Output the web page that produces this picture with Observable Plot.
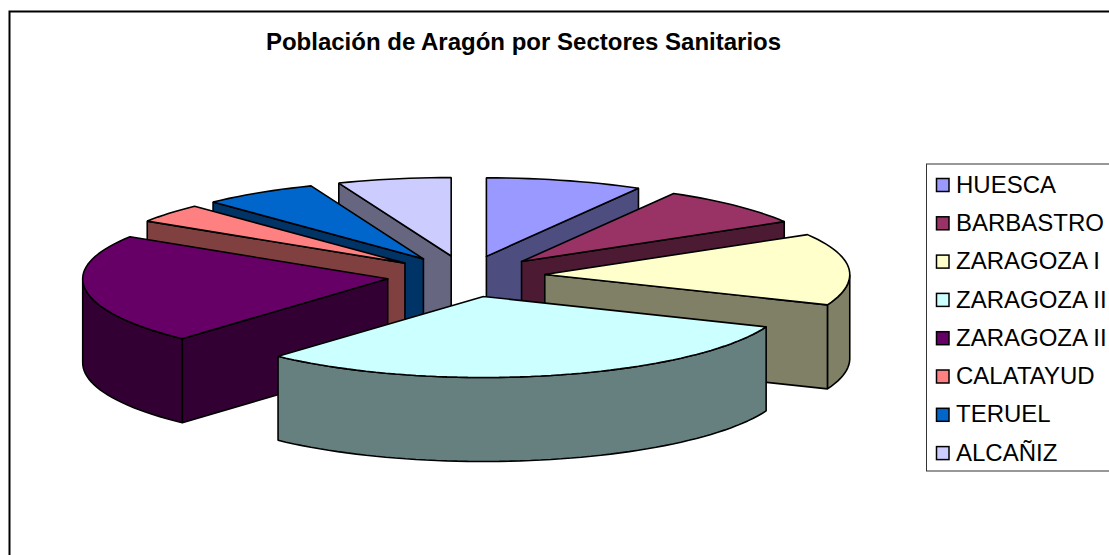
<!DOCTYPE html>
<html>
<head>
<meta charset="utf-8">
<script src="https://cdn.jsdelivr.net/npm/d3@7"></script>
<script src="https://cdn.jsdelivr.net/npm/@observablehq/plot@0.6"></script>
<style>
html,body{margin:0;padding:0;background:#fff;overflow:hidden}
svg{display:block}
</style>
</head>
<body>
<div id="chart"></div>
<script>
const chartTitle = "Población de Aragón por Sectores Sanitarios";
const sectors = ["HUESCA","BARBASTRO","ZARAGOZA I","ZARAGOZA II","ZARAGOZA II","CALATAYUD","TERUEL","ALCAÑIZ"];
const shares = [8.3, 8.2, 14.6, 30.6, 22.2, 3.9, 6.1, 6.0];
const topColors = ["#9999FF","#993366","#FFFFCC","#CCFFFF","#660066","#FF8080","#0066CC","#CCCCFF"];
const sideColors = ["#4D4D80","#4D1A33","#808066","#668080","#330033","#804040","#003366","#666680"];
const paintOrder = [7, 0, 6, 1, 5, 2, 4, 3];

// layout of the projected pie
const W = 1109, H = 555;
const cx = 465.5, cy = 275.5, rx = 305, ry = 81, backShrink = 78.5 / 81;
const explode = 0.259, depth = 84 / ry;
const ux = p => (p - cx) / rx;
const uy = p => (cy - p) / ry;

const arcs = d3.pie().sort(null).value(d => d)(shares);
const polys = [];
const ring = pts => [...pts, pts[0]];
const extrude = run => ring([...run, ...run.slice().reverse().map(p => ({x: p.x, y: p.y - depth}))]);
const foreshorten = y => y > 0 ? y * backShrink : y;

for (const i of paintOrder) {
  const {startAngle: a0, endAngle: a1} = arcs[i];
  const mid = (a0 + a1) / 2;
  const ox = explode * Math.sin(mid), oy = explode * Math.cos(mid);
  const at = a => ({x: ox + Math.sin(a), y: foreshorten(oy + Math.cos(a))});
  const n = Math.max(2, Math.ceil((a1 - a0) / (Math.PI / 90)));
  const arc = d3.range(n + 1).map(k => at(a0 + (a1 - a0) * k / n));
  const apex = {x: ox, y: foreshorten(oy)};
  const boundary = [apex, ...arc, apex];
  // only the faces turned to the viewer: boundary pieces running leftwards
  let run = null;
  for (let k = 0; k < boundary.length - 1; k++) {
    const p = boundary[k], q = boundary[k + 1];
    const radial = k === 0 || k === boundary.length - 2;
    if (q.x < p.x - 1e-9) {
      if (radial) {
        polys.push({pts: extrude([p, q]), fill: sideColors[i]});
        run = null;
      } else {
        if (!run) { run = [p]; polys.push({run, fill: sideColors[i]}); }
        run.push(q);
      }
    } else run = null;
  }
  polys.push({pts: ring([apex, ...arc]), fill: topColors[i]});
}
for (const p of polys) if (p.run) p.pts = extrude(p.run);

const wedgeMarks = polys.map(p => Plot.line(p.pts, {
  x: "x", y: "y", fill: p.fill, stroke: "#000", strokeWidth: 1.6, curve: "linear", strokeLinejoin: "miter"
}));

const legendRows = sectors.map((s, i) => {
  const yc = 184.5 + i * 38.3;
  return {
    name: s, color: topColors[i],
    tx: ux(955.5), ty: uy(yc),
    x1: ux(936.5), x2: ux(949), y1: uy(yc - 6), y2: uy(yc + 7)
  };
});

const svg = Plot.plot({
  width: W, height: H,
  marginTop: 0, marginRight: 0, marginBottom: 0, marginLeft: 0,
  x: {domain: [-1, 1], range: [cx - rx, cx + rx], axis: null},
  y: {domain: [-1, 1], range: [cy + ry, cy - ry], axis: null},
  style: {background: "#fff", fontFamily: "'Liberation Sans', Arial, sans-serif"},
  marks: [
    Plot.rect([{x1: ux(9.5), x2: ux(1130), y1: uy(11.5), y2: uy(600)}], {
      x1: "x1", x2: "x2", y1: "y1", y2: "y2", fill: "#fff", stroke: "#000", strokeWidth: 2
    }),
    ...wedgeMarks,
    Plot.rect([{x1: ux(926.5), x2: ux(1130), y1: uy(164), y2: uy(471)}], {
      x1: "x1", x2: "x2", y1: "y1", y2: "y2", fill: "#fff", stroke: "#333", strokeWidth: 1
    }),
    Plot.rect(legendRows, {
      x1: "x1", x2: "x2", y1: "y1", y2: "y2", fill: d => d.color, stroke: "#000", strokeWidth: 1.5
    }),
    Plot.text(legendRows, {
      x: "tx", y: "ty", text: "name", textAnchor: "start", fontSize: 24, fill: "#000", lineAnchor: "middle"
    }),
    Plot.text([chartTitle], {
      x: () => ux(523), y: () => uy(42), text: d => d, fontSize: 24, fontWeight: "bold", fill: "#000", lineAnchor: "middle"
    })
  ]
});
document.getElementById("chart").append(svg);
</script>
</body>
</html>
